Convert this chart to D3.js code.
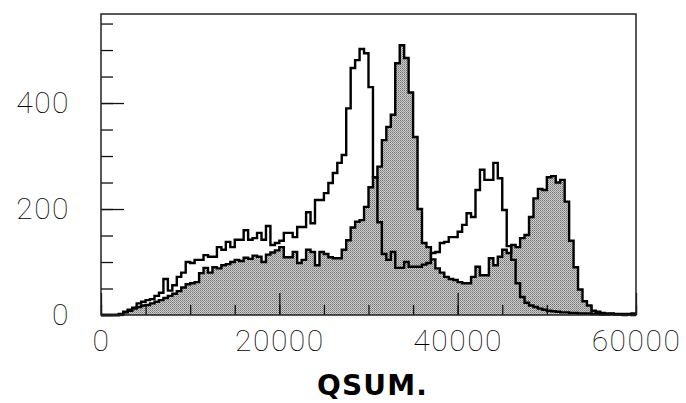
<!DOCTYPE html>
<html>
<head>
<meta charset="utf-8">
<script src="https://cdn.jsdelivr.net/npm/d3@7"></script>
<style>
    body{ margin:0; background:#fff; }
    .lbl text{ font-family:Roboto, "DejaVu Sans", sans-serif; font-weight:100; font-size:30px; fill:#000; letter-spacing:1.5px; }
</style>
</head>
<body>
<svg id="chart" width="686" height="403"></svg>
<script>
// histogram of QSUM, bins of 500
var binWidth = 500;
var binCount = 120;

// open (unfilled) histogram
var openCounts = [
    0,0,0,0,2, 6,10,14,22,25, 28,30,36,42,68, 46,56,72,80,100,
    98,104,104,113,110, 110,128,123,138,128, 142,142,160,142,145, 155,142,168,132,136,
    140,155,155,147,166, 166,194,173,217,217, 230,249,268,287,302, 390,466,481,502,494,
    430,260,175,115,104, 119,89,89,100,91, 91,91,95,98,117, 119,136,138,147,147,
    157,170,192,185,236, 274,255,255,287,258, 198,130,104,60,34, 23,18,15,12,10,
    8,7,6,5,5, 4,4,3,3,3, 2,2,1,1,2, 1,1,0,1,0
];

// shaded histogram
var shadedCounts = [
    0,0,0,0,1, 5,8,12,15,18, 19,22,25,28,32, 36,40,45,52,58,
    60,62,79,89,80, 90,88,94,96,100, 104,102,108,106,112, 110,100,114,118,122,
    128,109,109,119,98, 104,123,119,94,119, 115,109,107,107,123, 141,165,176,179,204,
    241,260,280,330,355, 378,475,509,485,420, 336,200,136,128,105, 88,80,72,68,66,
    62,60,60,72,91, 75,75,107,94,110, 123,117,132,128,145, 151,185,220,238,236,
    260,262,250,255,214, 140,90,48,26,18, 8,6,4,3,3, 2,2,2,2,3
];

var xTickLabels = [0, 20000, 40000, 60000];
var yTickLabels = [0, 200, 400];
var xMinorTicks = d3.range(0, 60001, 5000);
var yMinorTicks = d3.range(0, 551, 50);
var axisTitle = "QSUM.";

var box = {left: 101, right: 636, top: 14, bottom: 315};
var svg = d3.select('#chart');

var x = d3.scaleLinear().domain([0, 60000]).range([box.left, box.right]);
var y = d3.scaleLinear().domain([0, 568]).range([box.bottom, box.top]);

// stippled grey like the old printout
var defs = svg.append('defs');
var pat = defs.append('pattern')
    .attr('id', 'stipple')
    .attr('width', 2).attr('height', 2)
    .attr('patternUnits', 'userSpaceOnUse');
pat.append('rect').attr('width', 2).attr('height', 2).attr('fill', '#cfcfcf');
pat.append('rect').attr('width', 1).attr('height', 1).attr('fill', '#6e6e6e');
pat.append('rect').attr('x', 1).attr('y', 1).attr('width', 1).attr('height', 1).attr('fill', '#959595');

function stepData(counts){
    var pts = counts.map(function(c, i){ return [i * binWidth, c]; });
    pts.push([binCount * binWidth, counts[counts.length - 1]]);
    return pts;
}

var line = d3.line()
    .x(function(d){ return x(d[0]); })
    .y(function(d){ return y(d[1]); })
    .curve(d3.curveStepAfter);

var area = d3.area()
    .x(function(d){ return x(d[0]); })
    .y0(y(0))
    .y1(function(d){ return y(d[1]); })
    .curve(d3.curveStepAfter);

var g = svg.append('g');

g.append('path')
    .attr('d', area(stepData(shadedCounts)))
    .attr('fill', 'url(#stipple)');

g.append('path')
    .attr('d', line(stepData(shadedCounts)))
    .attr('fill', 'none')
    .attr('stroke', '#000')
    .attr('stroke-width', 2.4);

g.append('path')
    .attr('d', line(stepData(openCounts)))
    .attr('fill', 'none')
    .attr('stroke', '#000')
    .attr('stroke-width', 2.4);

// ticks point inwards
function bare(sel){ sel.select('.domain').remove(); }

svg.append('g')
    .attr('transform', 'translate(0,' + box.bottom + ')')
    .call(d3.axisBottom(x).tickValues(xMinorTicks).tickSize(-10).tickFormat(''))
    .call(bare);

svg.append('g')
    .attr('class', 'lbl')
    .attr('transform', 'translate(0,' + box.bottom + ')')
    .call(d3.axisBottom(x).tickValues(xTickLabels).tickSize(-22).tickPadding(15).tickFormat(d3.format('d')))
    .call(bare);

svg.append('g')
    .attr('transform', 'translate(' + box.left + ',0)')
    .call(d3.axisLeft(y).tickValues(yMinorTicks).tickSize(-12).tickFormat(''))
    .call(bare);

svg.append('g')
    .attr('class', 'lbl')
    .attr('transform', 'translate(' + box.left + ',0)')
    .call(d3.axisLeft(y).tickValues(yTickLabels).tickSize(-23).tickPadding(31).tickFormat(d3.format('d')))
    .call(bare);

svg.selectAll('.tick line').attr('stroke', '#111').attr('stroke-width', 1.3);

// frame
svg.append('rect')
    .attr('x', box.left).attr('y', box.top)
    .attr('width', box.right - box.left)
    .attr('height', box.bottom - box.top)
    .attr('fill', 'none')
    .attr('stroke', '#222')
    .attr('stroke-width', 1.5);

// hand written axis title
svg.append('text')
    .attr('x', 317).attr('y', 395)
    .attr('textLength', 110)
    .attr('lengthAdjust', 'spacing')
    .style('font-family', '"DejaVu Sans", sans-serif')
    .style('font-weight', 'bold')
    .style('font-size', '28px')
    .text(axisTitle);
</script>
</body>
</html>
